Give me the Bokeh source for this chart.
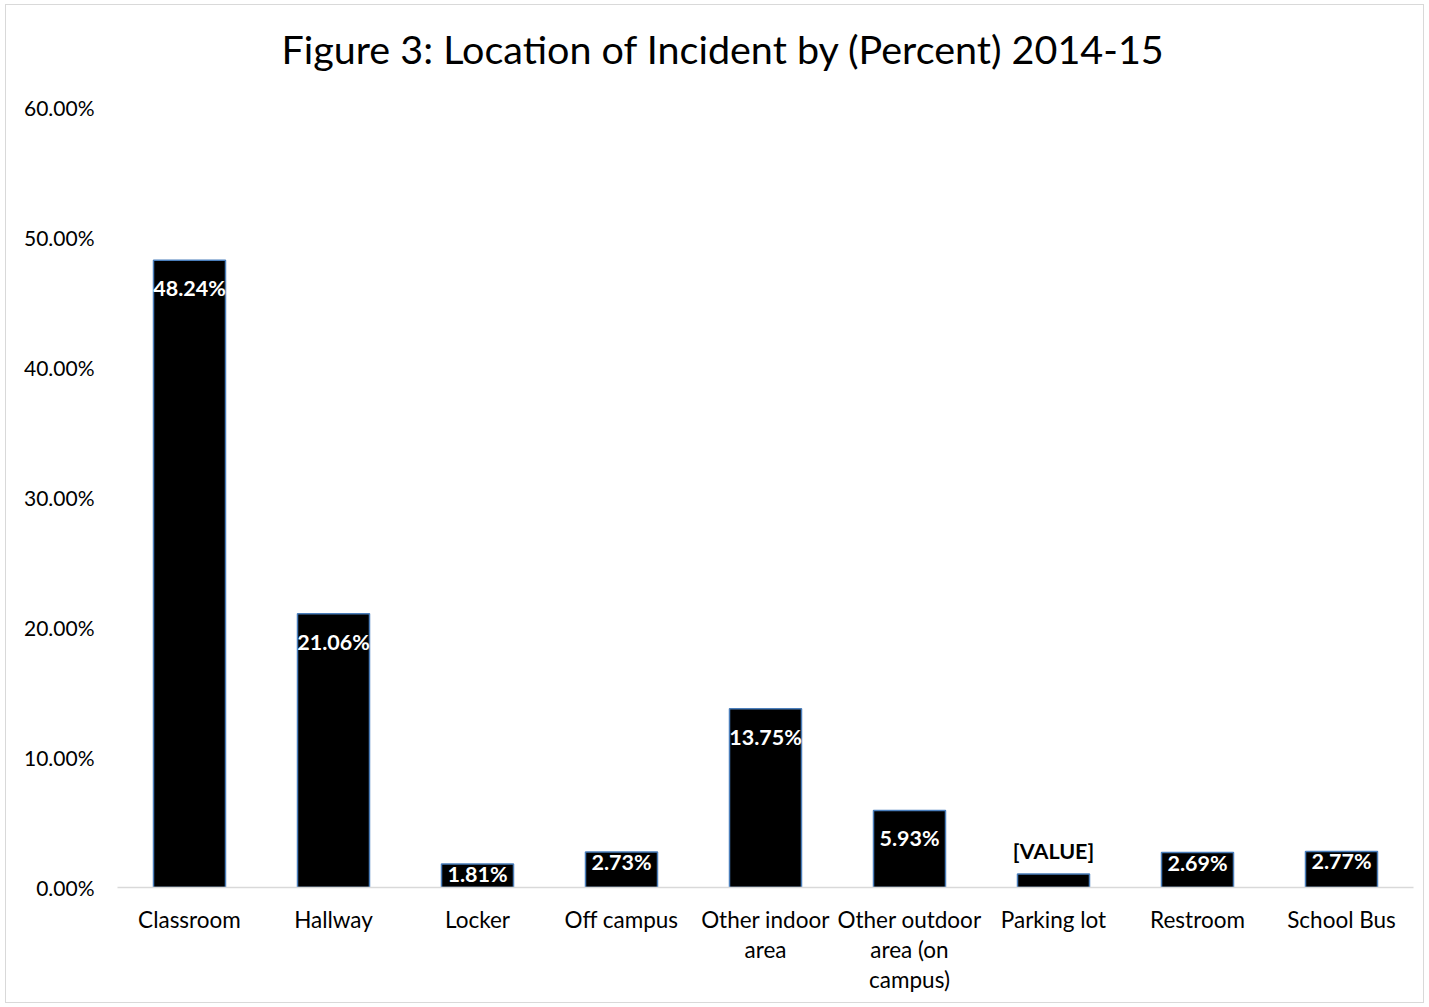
from bokeh.plotting import figure
from bokeh.models import FactorRange, Range1d, FixedTicker, PrintfTickFormatter, Label, ColumnDataSource
from bokeh.embed import file_html
from bokeh.resources import INLINE
from bokeh.core.properties import value

categories = ["Classroom", "Hallway", "Locker", "Off campus", "Other indoor\narea",
              "Other outdoor\narea (on\ncampus)", "Parking lot", "Restroom", "School Bus"]
percents = [48.24, 21.06, 1.81, 2.73, 13.75, 5.93, 1.03, 2.69, 2.77]
value_labels = ["48.24%", "21.06%", "1.81%", "2.73%", "13.75%", "5.93%", "[VALUE]", "2.69%", "2.77%"]
y_ticks = [0, 10, 20, 30, 40, 50, 60]
title_text = "Figure 3: Location of Incident by (Percent) 2014-15"

FONT = "Lato"

W, H = 1419, 999
p = figure(x_range=FactorRange(*categories, range_padding=0), y_range=Range1d(0, 67.46),
           width=W, height=H, output_backend="svg", toolbar_location=None, title=None,
           min_border_left=111, min_border_right=12, min_border_top=5, min_border_bottom=117)
p.styles = {"border": "1px solid #D9D9D9", "margin-left": "5px", "margin-top": "4px"}
p.outline_line_color = None
p.xgrid.grid_line_color = None
p.ygrid.grid_line_color = None

p.vbar(x=categories, top=percents, width=0.5, fill_color="black",
       line_color="#4A7EBB", line_width=1.5)

# data labels
offsets = []
colors = []
for v, t in zip(percents, value_labels):
    if t == "[VALUE]":
        offsets.append(-23)
        colors.append("black")
    elif v >= 5:
        offsets.append(28)
        colors.append("white")
    else:
        offsets.append(10)
        colors.append("white")
src = ColumnDataSource(dict(x=categories, y=percents, t=value_labels, off=offsets, c=colors))
p.text(x="x", y="y", text="t", y_offset="off", text_color="c", source=src,
       text_align="center", text_baseline="middle", text_font=value(FONT),
       text_font_style="bold", text_font_size="21.5px")

# axes
p.yaxis.ticker = FixedTicker(ticks=y_ticks)
p.yaxis.formatter = PrintfTickFormatter(format="%.2f%%")
p.yaxis.axis_line_color = None
p.yaxis.major_tick_line_color = None
p.yaxis.minor_tick_line_color = None
p.yaxis.major_label_standoff = 17
p.yaxis.major_label_text_font = FONT
p.yaxis.major_label_text_font_size = "21px"
p.yaxis.major_label_text_color = "#000000"

p.xaxis.axis_line_color = "#D9D9D9"
p.xaxis.axis_line_width = 1.5
p.xaxis.major_tick_line_color = None
p.xaxis.minor_tick_line_color = None
p.xaxis.major_label_standoff = 12
p.xaxis.major_label_text_font = FONT
p.xaxis.major_label_text_font_size = "22.5px"
p.xaxis.major_label_text_color = "#000000"
p.xaxis.major_label_text_line_height = 1.12

# chart title (placed in synthetic categorical coordinates above the 60% tick)
p.add_layout(Label(x=4.208, y=64.5, text=title_text,
                   text_align="center", text_baseline="middle", text_font=FONT,
                   text_font_size="39.5px", text_color="#000000"))

open("out.html", "w").write(file_html(p, INLINE))
